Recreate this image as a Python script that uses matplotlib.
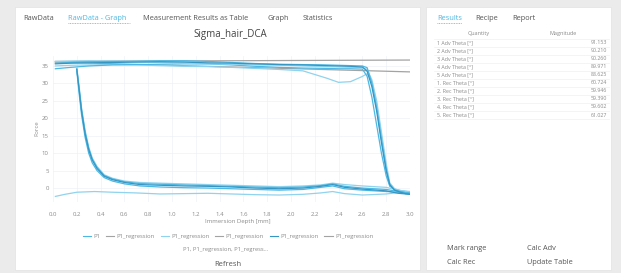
#!/usr/bin/env python3
"""
DCA raw data view: Sigma_hair_DCA immersion curves with results panel.
"""

import matplotlib
matplotlib.use("Agg")
import matplotlib.pyplot as plt
from matplotlib.patches import Rectangle
from matplotlib.lines import Line2D

# =============================================================================
# Data
# =============================================================================

DEPTH_ADV = [0.02, 0.15, 0.3, 0.5, 0.7, 0.9, 1.1, 1.3, 1.5, 1.7, 1.9, 2.1, 2.3,
             2.4, 2.5, 2.6, 2.64, 2.68, 2.72, 2.76, 2.80, 2.83, 2.87, 2.92, 2.96, 3.0]
ADV_1 = [35.6, 35.8, 35.9, 36.0, 36.1, 36.2, 36.1, 35.9, 35.8, 35.6, 35.4, 35.3, 35.1,
         35.0, 34.9, 34.7, 33.5, 29.0, 22.0, 13.0, 5.0, 1.0, -0.6, -1.2, -1.6, -1.8]
ADV_2 = [34.2, 34.6, 35.0, 35.3, 35.4, 35.5, 35.6, 35.6, 35.3, 34.9, 34.6, 34.4, 34.3,
         34.2, 34.2, 34.1, 32.0, 26.0, 18.0, 10.0, 3.5, 0.5, -0.4, -0.9, -1.2, -1.4]
ADV_3 = [36.3, 36.4, 36.5, 36.4, 36.2, 36.0, 35.8, 35.6, 35.5, 35.3, 35.2, 35.0, 34.8,
         34.7, 34.6, 34.5, 34.0, 31.0, 25.0, 16.0, 7.0, 1.5, -0.2, -0.8, -1.0, -1.1]
ADV_4 = [35.0, 35.2, 35.3, 35.4, 35.3, 35.1, 34.9, 34.8, 34.6, 34.3, 34.0, 33.6, 31.5,
         30.3, 30.5, 32.0, 32.8, 30.5, 24.0, 15.0, 6.0, 1.2, -0.3, -0.7, -0.9, -1.0]
ADV_5 = [35.8, 36.0, 36.2, 36.3, 36.4, 36.5, 36.5, 36.3, 36.0, 35.7, 35.5, 35.4, 35.3,
         35.2, 35.1, 35.0, 34.5, 30.0, 23.0, 14.0, 5.5, 0.8, -0.5, -1.0, -1.3, -1.5]

DEPTH_REC = [3.0, 2.9, 2.8, 2.6, 2.45, 2.35, 2.25, 2.1, 1.9, 1.7, 1.5, 1.3, 1.1, 0.9,
             0.73, 0.6, 0.5, 0.43, 0.37, 0.33, 0.3, 0.27, 0.24, 0.22, 0.2]
REC_1 = [-1.8, -1.5, -0.8, -0.3, 0.2, 1.0, 0.5, 0.0, -0.2, 0.0, 0.3, 0.5, 0.6, 0.8,
         1.0, 1.6, 2.4, 3.4, 5.6, 8.0, 11.0, 15.5, 22.0, 28.0, 34.0]
REC_2 = [-1.4, -1.2, -1.0, -0.6, -0.2, 0.6, 0.2, -0.4, -0.6, -0.4, -0.2, 0.0, 0.1, 0.3,
         0.6, 1.2, 2.0, 3.0, 5.0, 7.2, 10.0, 14.5, 21.0, 27.0, 33.5]
REC_3 = [-1.1, -0.6, 0.2, 0.6, 1.0, 1.4, 0.9, 0.6, 0.4, 0.6, 0.8, 1.0, 1.2, 1.4,
         1.6, 2.0, 2.8, 3.8, 6.2, 8.6, 11.8, 16.5, 23.0, 29.0, 34.5]
REC_5 = [-1.5, -1.0, -0.4, 0.0, 0.5, 1.2, 0.7, 0.3, 0.1, 0.3, 0.5, 0.7, 0.9, 1.1,
         1.3, 1.8, 2.6, 3.6, 5.9, 8.3, 11.4, 16.0, 22.5, 28.5, 34.2]

DEPTH_BASE = [3.0, 2.9, 2.8, 2.6, 2.45, 2.35, 2.25, 2.1, 1.9, 1.7, 1.5, 1.3, 1.1, 0.9,
              0.7, 0.5, 0.35, 0.2, 0.1, 0.02]
BASE_4 = [-1.0, -1.3, -1.7, -2.0, -1.6, -1.0, -1.4, -1.8, -2.0, -1.9, -1.7, -1.5, -1.6,
          -1.7, -1.4, -1.2, -1.0, -1.2, -1.8, -2.4]

REG_DEPTH = [0.02, 3.0]
REG_A = [36.3, 36.7]
REG_B = [36.1, 33.3]

X_TICKS = [0.0, 0.2, 0.4, 0.6, 0.8, 1.0, 1.2, 1.4, 1.6, 1.8, 2.0, 2.2, 2.4, 2.6, 2.8, 3.0]
Y_TICKS = [0, 5, 10, 15, 20, 25, 30, 35]

TABS = ["RawData", "RawData - Graph", "Measurement Results as Table", "Graph", "Statistics"]
SIDE_TABS = ["Results", "Recipe", "Report"]
QUANTITIES = ["1 Adv Theta [°]", "2 Adv Theta [°]", "3 Adv Theta [°]", "4 Adv Theta [°]",
              "5 Adv Theta [°]", "1. Rec Theta [°]", "2. Rec Theta [°]", "3. Rec Theta [°]",
              "4. Rec Theta [°]", "5. Rec Theta [°]"]
MAGNITUDES = ["91.153", "90.210", "90.260", "89.971", "88.625",
              "60.724", "59.946", "59.390", "59.602", "61.027"]

# =============================================================================
# Style
# =============================================================================

W, H = 621, 273
plt.rcParams['font.family'] = ['Open Sans', 'DejaVu Sans']

BG = "#ebebeb"
BLUE = "#4db8e3"
BLUE_DARK = "#3596c4"
BLUE_LIGHT = "#8fd3ee"
GREY_LINE = "#a3a3a3"
TEXT = "#555555"
TEXT_LIGHT = "#8a8a8a"


def px(x, y):
    """pixel position -> figure fraction"""
    return x / W, 1 - y / H


fig = plt.figure(figsize=(W / 100, H / 100), dpi=100, facecolor=BG)

# panels
for x0, y0, x1, y1 in [(15, 7, 420, 270), (426, 7, 611, 270)]:
    fx, fy = px(x0, y1)
    fig.add_artist(Rectangle((fx, fy), (x1 - x0) / W, (y1 - y0) / H,
                             transform=fig.transFigure, facecolor="white",
                             edgecolor="#e2e2e2", linewidth=0.5, zorder=0))

# tabs
tab_x = [23, 68, 143, 268, 303]
for label, x in zip(TABS, tab_x):
    color = BLUE if label == "RawData - Graph" else TEXT
    fig.text(*px(x, 18), label, fontsize=5.3, color=color, va="center", ha="left")
fig.add_artist(Line2D([68 / W, 130 / W], [1 - 23 / H] * 2, transform=fig.transFigure,
                      color=BLUE, linewidth=0.6, linestyle=(0, (1, 1))))

side_x = [437, 475, 512]
for label, x in zip(SIDE_TABS, side_x):
    color = BLUE if label == "Results" else TEXT
    fig.text(*px(x, 18), label, fontsize=5.3, color=color, va="center", ha="left")
fig.add_artist(Line2D([437 / W, 462 / W], [1 - 23 / H] * 2, transform=fig.transFigure,
                      color=BLUE, linewidth=0.6, linestyle=(0, (1, 1))))

# results table
fig.text(*px(479, 33), "Quantity", fontsize=4, color=TEXT_LIGHT, ha="center", va="center")
fig.text(*px(563, 33), "Magnitude", fontsize=4, color=TEXT_LIGHT, ha="center", va="center")
row_h = 8.0
for i, (q, m) in enumerate(zip(QUANTITIES, MAGNITUDES)):
    y = 43 + i * row_h
    fig.text(*px(437, y), q, fontsize=3.8, color=TEXT_LIGHT, ha="left", va="center")
    fig.text(*px(607, y), m, fontsize=3.8, color=TEXT_LIGHT, ha="right", va="center")
    fig.add_artist(Line2D([434 / W, 609 / W], [1 - (y - row_h / 2) / H] * 2,
                          transform=fig.transFigure, color="#ececec", linewidth=0.4))
fig.add_artist(Line2D([434 / W, 609 / W], [1 - (43 + 9.5 * row_h) / H] * 2,
                      transform=fig.transFigure, color="#ececec", linewidth=0.4))

# buttons
for label, x, y in [("Mark range", 447, 248), ("Calc Adv", 527, 248),
                     ("Calc Rec", 447, 262), ("Update Table", 527, 262)]:
    fig.text(*px(x, y), label, fontsize=5.3, color=TEXT, ha="left", va="center")

# =============================================================================
# Chart
# =============================================================================

ax = fig.add_axes([53 / W, 1 - 202 / H, (410 - 53) / W, (202 - 55.5) / H])
ax.set_facecolor("white")

ax.plot(REG_DEPTH, REG_A, color=GREY_LINE, lw=0.9, zorder=2)
ax.plot(REG_DEPTH, REG_B, color=GREY_LINE, lw=0.9, zorder=2)

ax.plot(DEPTH_BASE, BASE_4, color=BLUE_LIGHT, lw=0.9, zorder=3)
for adv, rec, color in [(ADV_4, None, BLUE_LIGHT), (ADV_2, REC_2, BLUE),
                        (ADV_3, REC_3, BLUE_LIGHT), (ADV_5, REC_5, BLUE),
                        (ADV_1, REC_1, BLUE_DARK)]:
    ax.plot(DEPTH_ADV, adv, color=color, lw=0.9, zorder=4)
    if rec is not None:
        ax.plot(DEPTH_REC, rec, color=color, lw=0.9, zorder=4)

ax.set_xlim(0, 3.0)
ax.set_ylim(-4, 38)
ax.set_xticks(X_TICKS)
ax.set_xticklabels([f"{t:.1f}" for t in X_TICKS])
ax.set_yticks(Y_TICKS)
ax.tick_params(length=0, labelsize=4.3, labelcolor=TEXT_LIGHT)
ax.tick_params(axis="x", pad=7)
ax.tick_params(axis="y", pad=3)
ax.grid(True, color="#eef2f5", linewidth=0.5)
ax.set_axisbelow(True)
for spine in ax.spines.values():
    spine.set_visible(False)

fig.text(*px(230, 34), "Sigma_hair_DCA", fontsize=7, color="#444444", ha="center", va="center")
fig.text(*px(238, 222), "Immersion Depth [mm]", fontsize=4.3, color=TEXT_LIGHT,
         ha="center", va="center")
fig.text(*px(37, 128), "Force", fontsize=4.3, color=TEXT_LIGHT, rotation=90,
         ha="center", va="center")

handles = [Line2D([], [], color=BLUE, lw=0.8)] + \
          [Line2D([], [], color=c, lw=0.8) for c in [GREY_LINE, BLUE_LIGHT, GREY_LINE, BLUE_DARK, GREY_LINE]]
labels = ["P1"] + ["P1_regression"] * 5
fig.legend(handles, labels, loc="center", bbox_to_anchor=px(228, 236), ncol=6,
           fontsize=4.2, frameon=False, handlelength=1.4, handletextpad=0.4,
           columnspacing=1.0, labelcolor=TEXT_LIGHT)
fig.text(*px(226, 249), "P1, P1_regression, P1_regress...", fontsize=4.2,
         color=TEXT_LIGHT, ha="center", va="center")
fig.text(*px(228, 264), "Refresh", fontsize=5.5, color=TEXT, ha="center", va="center")

fig.savefig("out.png", dpi=100, facecolor=BG)
